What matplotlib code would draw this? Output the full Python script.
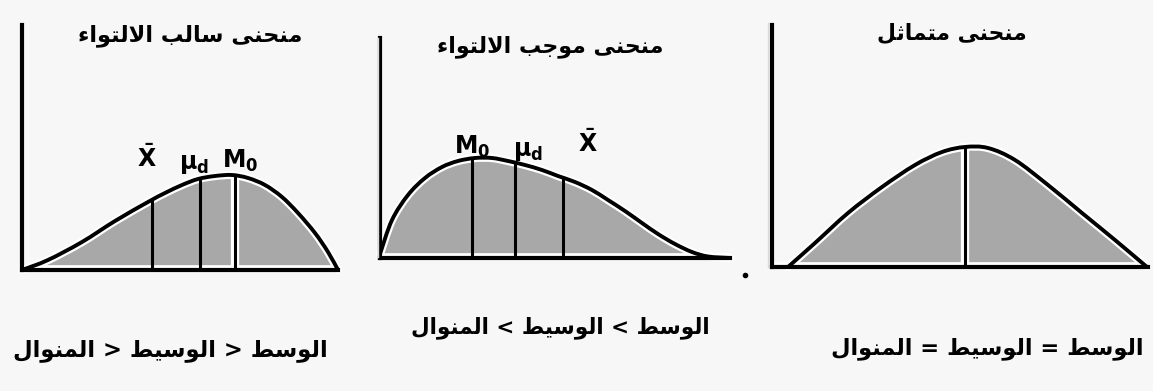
import numpy as np
import matplotlib
matplotlib.use("Agg")
import matplotlib.pyplot as plt
from matplotlib.path import Path
from matplotlib.patches import PathPatch
from matplotlib.lines import Line2D

# ---------------- data ----------------
# Left panel: negatively skewed curve (x = distance from y axis, y = height above baseline)
neg_x = [0, 26, 60, 93, 126, 143, 160, 176, 193, 210, 226, 243, 260, 276, 293, 306, 316]
neg_y = [0, 10, 28, 49, 68, 77, 85, 91, 94, 95, 92, 85, 73, 57, 37, 18, 0]
neg_lines = [130, 178, 213]          # X-bar, median, mode
neg_labels = [r'$\mathbf{\bar{X}}$', r'$\mathbf{\mu_d}$', r'$\mathbf{M_0}$']

# Middle panel: positively skewed curve
pos_x = [0, 12, 28, 45, 62, 78, 95, 112, 128, 145, 162, 178, 195, 212, 228, 245, 262, 278, 295, 312, 328, 350]
pos_y = [4, 38, 63, 80, 91, 97, 100, 100, 97, 93, 88, 82, 76, 68, 58, 47, 35, 24, 14, 6, 1.5, 0]
pos_lines = [92, 135, 183]           # mode, median, X-bar
pos_labels = [r'$\mathbf{M_0}$', r'$\mathbf{\mu_d}$', r'$\mathbf{\bar{X}}$']

# Right panel: symmetric curve
sym_x = [16, 43, 76, 110, 143, 170, 193, 216, 243, 276, 310, 343, 375]
sym_y = [0, 24, 54, 80, 102, 115, 120, 119, 107, 82, 54, 27, 0]
sym_lines = [193]

titles = ["منحنى سالب الالتواء", "منحنى موجب الالتواء", "منحنى متماثل"]
W_MEAN, W_MEDIAN, W_MODE = "الوسط", "الوسيط", "المنوال"
relations = ['\u003c', '\u003e', '=']   # logical-order relation: mean ? median ? mode

# ---------------- simple Arabic shaping (presentation forms, visual order) ----------------
FORMS = {
    'ا': ('\uFE8D', '\uFE8E', None, None),
    'ب': ('\uFE8F', '\uFE90', '\uFE91', '\uFE92'),
    'ت': ('\uFE95', '\uFE96', '\uFE97', '\uFE98'),
    'ث': ('\uFE99', '\uFE9A', '\uFE9B', '\uFE9C'),
    'ج': ('\uFE9D', '\uFE9E', '\uFE9F', '\uFEA0'),
    'ح': ('\uFEA1', '\uFEA2', '\uFEA3', '\uFEA4'),
    'س': ('\uFEB1', '\uFEB2', '\uFEB3', '\uFEB4'),
    'ط': ('\uFEC1', '\uFEC2', '\uFEC3', '\uFEC4'),
    'ل': ('\uFEDD', '\uFEDE', '\uFEDF', '\uFEE0'),
    'م': ('\uFEE1', '\uFEE2', '\uFEE3', '\uFEE4'),
    'ن': ('\uFEE5', '\uFEE6', '\uFEE7', '\uFEE8'),
    'و': ('\uFEED', '\uFEEE', None, None),
    'ى': ('\uFEEF', '\uFEF0', None, None),
    'ي': ('\uFEF1', '\uFEF2', '\uFEF3', '\uFEF4'),
    'ء': ('\uFE80', None, None, None),
}
MIRROR = {'<': '>', '>': '<'}   # bidi mirroring in right-to-left text


def joins_left(c):
    return c in FORMS and FORMS[c][2] is not None


def joins_right(c):
    return c in FORMS and FORMS[c][1] is not None


def shape(s):
    out = []
    n = len(s)
    i = 0
    while i < n:
        c = s[i]
        if c not in FORMS:
            out.append(MIRROR.get(c, c))
            i += 1
            continue
        pj = i > 0 and joins_left(s[i - 1])
        if c == 'ل' and i + 1 < n and s[i + 1] == 'ا':
            out.append('\uFEFC' if pj else '\uFEFB')
            i += 2
            continue
        nj = i + 1 < n and joins_right(s[i + 1]) and joins_left(c)
        iso, fin, ini, med = FORMS[c]
        if pj and nj:
            g = med
        elif pj:
            g = fin or iso
        elif nj:
            g = ini
        else:
            g = iso
        out.append(g)
        i += 1
    return ''.join(reversed(out))


# ---------------- figure ----------------
W, H = 1153, 391
BG = '#f7f7f7'
GRAY = '#a8a8a8'
fig = plt.figure(figsize=(W / 100, H / 100), dpi=100, facecolor=BG)
plt.rcParams['mathtext.fontset'] = 'dejavusans'


def make_ax(x0, y_base, length, top):
    ax = fig.add_axes([x0 / W, (H - y_base) / H, length / W, (y_base - top) / H])
    ax.set_xlim(0, length)
    ax.set_ylim(0, y_base - top)
    ax.set_facecolor('none')
    for s in ['top', 'right']:
        ax.spines[s].set_visible(False)
    for s in ['left', 'bottom']:
        ax.spines[s].set_linewidth(3)
        ax.spines[s].set_color('black')
        ax.spines[s].set_zorder(6)
        ax.spines[s].set_capstyle('projecting')
    ax.set_xticks([])
    ax.set_yticks([])
    return ax


def smooth_path(cx, cy, close_to_base=False):
    """Catmull-Rom spline through the read points, expressed as cubic Bezier segments."""
    P = np.column_stack([cx, cy]).astype(float)
    n = len(P)
    verts = [P[0]]
    codes = [Path.MOVETO]
    if close_to_base:
        verts = [(P[0, 0], 0.0), P[0]]
        codes = [Path.MOVETO, Path.LINETO]
    for i in range(n - 1):
        p0 = P[i - 1] if i > 0 else P[i]
        p1, p2 = P[i], P[i + 1]
        p3 = P[i + 2] if i + 2 < n else P[i + 1]
        c1 = p1 + (p2 - p0) / 6.0
        c2 = p2 - (p3 - p1) / 6.0
        verts += [c1, c2, p2]
        codes += [Path.CURVE4] * 3
    if close_to_base:
        verts += [(P[-1, 0], 0.0), (P[0, 0], 0.0)]
        codes += [Path.LINETO, Path.CLOSEPOLY]
    return Path(verts, codes)


def draw_curve(ax, cx, cy, lines, halo_lines=()):
    ax.add_patch(PathPatch(smooth_path(cx, cy, True), facecolor=GRAY, lw=0, zorder=1))
    ax.add_patch(PathPatch(smooth_path(cx, cy), facecolor='none', edgecolor='white',
                           lw=6, capstyle='round', zorder=2, clip_on=False))
    ax.axhline(0, color='white', lw=7, zorder=2)
    for lx in lines:
        top = np.interp(lx, cx, cy)
        if lx in halo_lines:
            ax.plot([lx, lx], [0, top], color='white', lw=6, zorder=3)
        ax.plot([lx, lx], [0, top], color='black', lw=2.2, zorder=4)
    ax.add_patch(PathPatch(smooth_path(cx, cy), facecolor='none', edgecolor='black',
                           lw=2.8, capstyle='round', joinstyle='round', zorder=5, clip_on=False))


# faint seams between the three pictures
fig.add_artist(Line2D([378 / W, 378 / W], [1 - 257 / H, 1 - 38 / H], color='#d9d9d9', lw=1))
fig.add_artist(Line2D([768 / W, 768 / W], [1 - 267 / H, 1 - 23 / H], color='#d9d9d9', lw=1))

# Left panel
axL = make_ax(22, 270, 316, 25)
draw_curve(axL, neg_x, neg_y, neg_lines, halo_lines=(213,))
for (lx, ly), lab in zip([(125, 112), (172, 106), (218, 109)], neg_labels):
    axL.text(lx, ly, lab, ha='center', va='center', fontsize=17, color='black', zorder=7)

# Middle panel
axM = make_ax(380, 258, 350, 38)
draw_curve(axM, pos_x, pos_y, pos_lines)
for (lx, ly), lab in zip([(92, 111), (148, 107), (208, 115)], pos_labels):
    axM.text(lx, ly, lab, ha='center', va='center', fontsize=17, color='black', zorder=7)
axM.plot([365], [-17], marker='o', ms=3, color='black', clip_on=False)

# Right panel
axR = make_ax(772, 267, 376, 25)
draw_curve(axR, sym_x, sym_y, sym_lines, halo_lines=(193,))

# ---------------- Arabic texts, fitted to measured widths ----------------
bottoms = [f"{W_MEAN} {r} {W_MEDIAN} {r} {W_MODE}" for r in relations]
text_specs = [
    (titles[0], 190, 36, 225),
    (titles[1], 550, 47, 226),
    (titles[2], 952, 33, 150),
    (bottoms[0], 170, 350, 315),
    (bottoms[1], 560, 328, 300),
    (bottoms[2], 987, 349, 313),
]
texts = []
for s, cx, cy, wpx in text_specs:
    t = fig.text(cx / W, 1 - cy / H, shape(s), ha='center', va='center',
                 fontsize=16, fontweight='bold', family=['DejaVu Sans'], color='black')
    texts.append((t, wpx))

renderer = fig.canvas.get_renderer()
for t, wpx in texts:
    w = t.get_window_extent(renderer).width
    t.set_fontsize(16 * wpx / w)

fig.savefig('out.png', dpi=100, facecolor=BG)
